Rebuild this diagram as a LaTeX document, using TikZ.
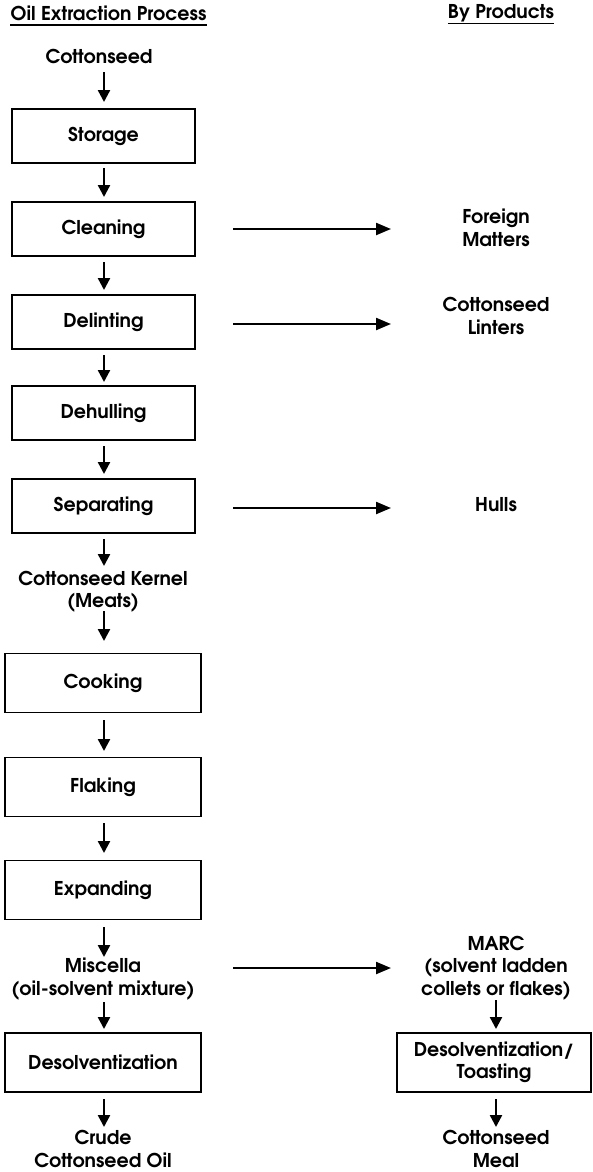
\documentclass[tikz,border=0pt]{standalone}
\usepackage{fontspec}
\setmainfont{texgyreadventor}[Extension=.otf, UprightFont=*-regular, BoldFont=*-bold]
\usetikzlibrary{arrows.meta}
\begin{document}
\begin{tikzpicture}[x=1pt,y=-1pt,
  every node/.style={font=\bfseries\fontsize{19}{22.5}\selectfont, align=center, inner sep=0pt},
  boxa/.style={draw, line width=1.4pt, minimum width=183pt, minimum height=54pt},
  boxb/.style={draw, line width=1.4pt, minimum width=196pt, minimum height=59pt},
  varr/.style={line width=2.4pt, -{Triangle[width=12pt,length=12pt]}},
  harr/.style={line width=2.2pt, -{Triangle[width=12pt,length=15pt]}}]
\useasboundingbox (0,0) rectangle (593,1172);
% headers
\node (h1) at (108.5,13) {Oil Extraction Process};
\node (h2) at (501,13) {By Products};
\draw[line width=1.4pt] ([yshift=-5pt]h1.base west) -- ([yshift=-5pt]h1.base east);
\draw[line width=1.4pt] ([yshift=-5pt]h2.base west) -- ([yshift=-5pt]h2.base east);
% left column
\node (cs) at (99,56) {Cottonseed};
\node[boxa] (st) at (103.5,136) {Storage};
\node[boxa] (cl) at (103.5,229) {Cleaning};
\node[boxa] (de) at (103.5,322) {Delinting};
\node[boxa] (dh) at (103.5,413) {Dehulling};
\node[boxa] (se) at (103.5,506) {Separating};
\node (ke) at (103,592) {Cottonseed Kernel\\(Meats)};
\node[boxb] (co) at (103,683) {Cooking};
\node[boxb] (fl) at (103,787) {Flaking};
\node[boxb] (ex) at (103,890) {Expanding};
\node (mi) at (103,979) {Miscella\\(oil-solvent mixture)};
\node[boxb] (ds) at (103,1062.5) {Desolventization};
\node (cr) at (103,1149) {Crude\\Cottonseed Oil};
% right column
\node (fm) at (496,228) {Foreign\\Matters};
\node (li) at (496,316) {Cottonseed\\Linters};
\node (hu) at (496,505) {Hulls};
\node (ma) at (496,968) {MARC\\(solvent ladden\\collets or flakes)};
\node[draw, line width=1.4pt, minimum width=194pt, minimum height=59pt] (dt) at (494,1062.5) {Desolventization/\\Toasting};
\node (me) at (496,1149) {Cottonseed\\Meal};
\coordinate (hs) at (233,0);
\coordinate (he) at (391,0);
% vertical arrows
\draw[varr] (104,72) -- (104,102);
\draw[varr] (104,168) -- (104,197);
\draw[varr] (104,262) -- (104,290);
\draw[varr] (104,355) -- (104,382);
\draw[varr] (104,446) -- (104,474);
\draw[varr] (104,539) -- (104,566);
\draw[varr] (104,611) -- (104,641);
\draw[varr] (104,720) -- (104,751);
\draw[varr] (104,823) -- (104,853);
\draw[varr] (104,927) -- (104,957);
\draw[varr] (104,1002) -- (104,1029);
\draw[varr] (104,1099) -- (104,1127);
\draw[varr] (496,1000) -- (496,1029);
\draw[varr] (496,1099) -- (496,1127);
% horizontal arrows
\draw[harr] (hs |- cl.center) -- (he |- cl.center);
\draw[harr] ([yshift=-2pt]hs |- de.center) -- ([yshift=-2pt]he |- de.center);
\draw[harr] ([yshift=-2pt]hs |- se.center) -- ([yshift=-2pt]he |- se.center);
\draw[harr] ([yshift=11pt]hs |- mi.center) -- ([yshift=11pt]he |- mi.center);
\end{tikzpicture}
\end{document}
